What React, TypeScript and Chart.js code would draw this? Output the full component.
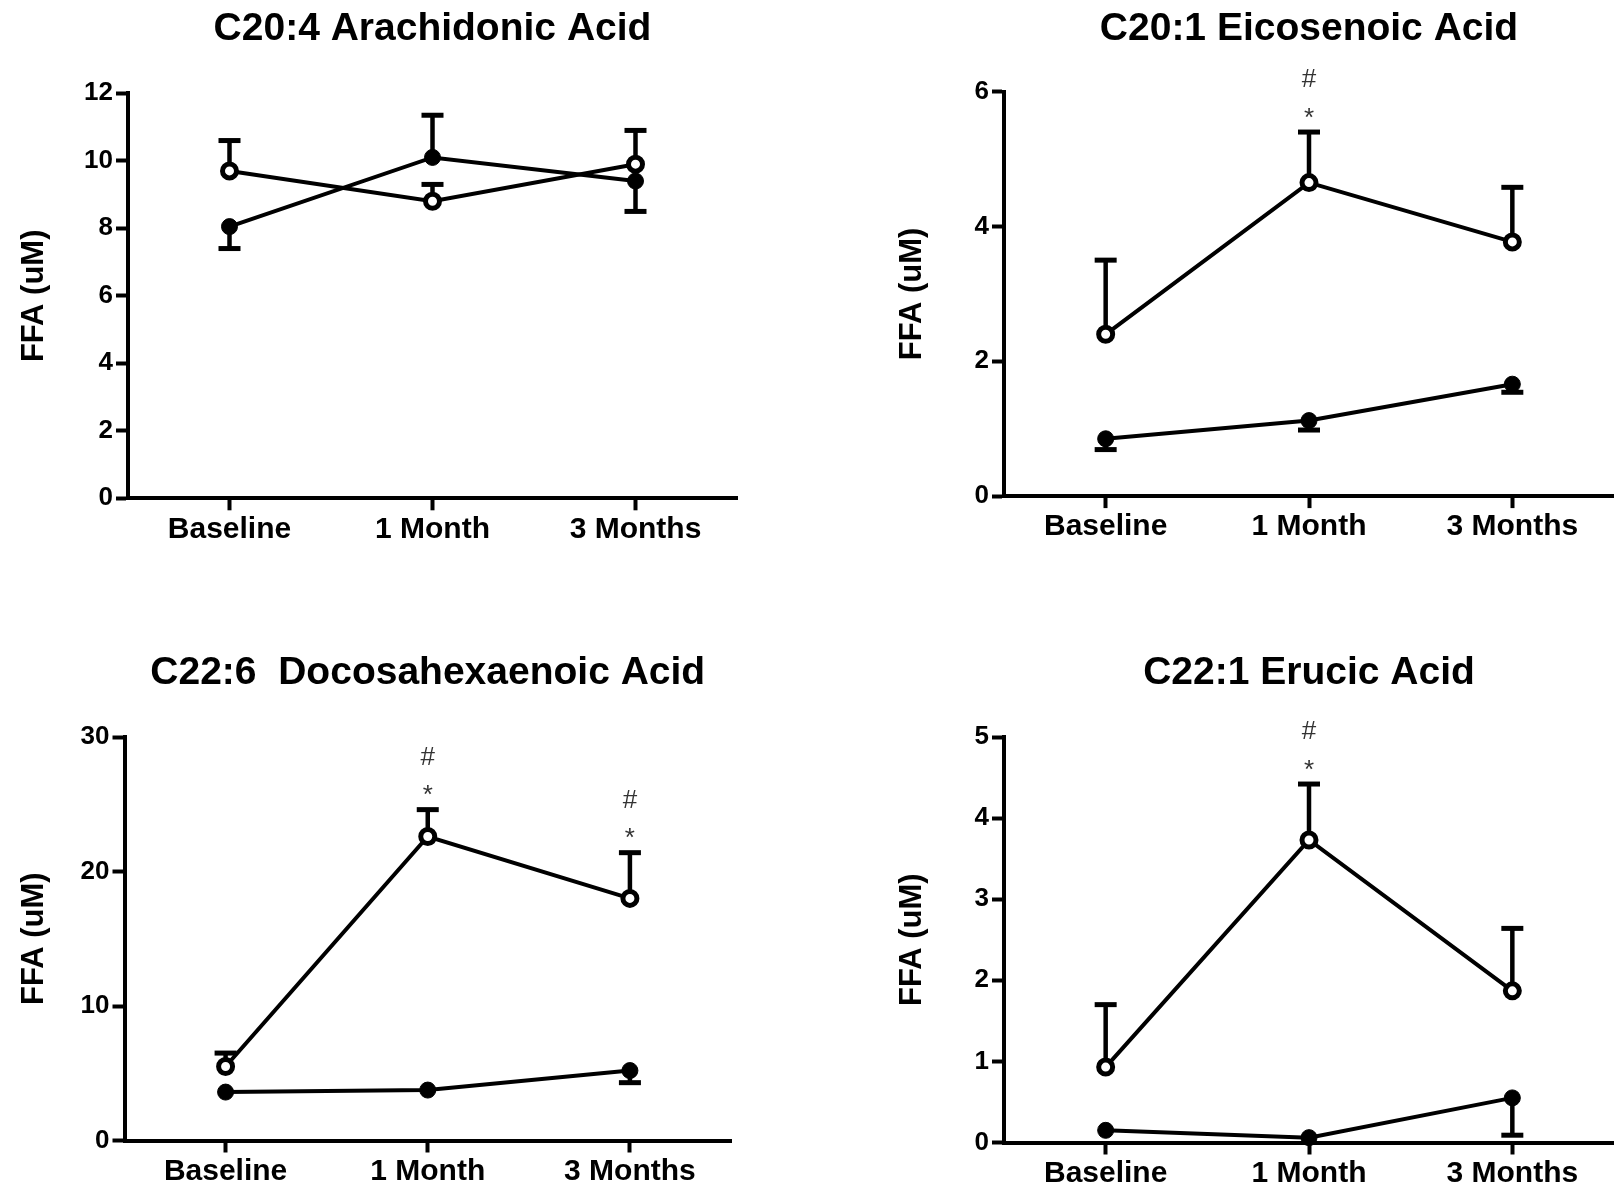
import React, { useEffect, useRef } from 'react';
import { Chart, registerables } from 'chart.js';

Chart.register(...registerables);

// ---------- data ----------
const CATEGORIES = ['Baseline', '1 Month', '3 Months'];
const Y_TITLE = 'FFA (uM)';

// C20:4 Arachidonic Acid
const AA_TITLE = 'C20:4 Arachidonic Acid';
const AA_OPEN = [9.7, 8.8, 9.9];
const AA_OPEN_ERR = [10.6, 9.3, 10.9];
const AA_FILLED = [8.05, 10.1, 9.4];
const AA_FILLED_ERR = [7.4, 11.35, 8.5];
const AA_SIG = ['', '', ''];
const AA_Y_MAX = 12;
const AA_Y_STEP = 2;

// C20:1 Eicosenoic Acid
const EA_TITLE = 'C20:1 Eicosenoic Acid';
const EA_OPEN = [2.4, 4.65, 3.77];
const EA_OPEN_ERR = [3.5, 5.4, 4.58];
const EA_FILLED = [0.85, 1.12, 1.66];
const EA_FILLED_ERR = [0.69, 0.98, 1.54];
const EA_SIG = ['', '*#', ''];
const EA_Y_MAX = 6;
const EA_Y_STEP = 2;

// C22:6 Docosahexaenoic Acid
const DHA_TITLE = 'C22:6  Docosahexaenoic Acid';
const DHA_OPEN = [5.5, 22.6, 18.0];
const DHA_OPEN_ERR = [6.5, 24.6, 21.4];
const DHA_FILLED = [3.6, 3.75, 5.2];
const DHA_FILLED_ERR = [3.6, 3.75, 4.3];
const DHA_SIG = ['', '*#', '*#'];
const DHA_Y_MAX = 30;
const DHA_Y_STEP = 10;

// C22:1 Erucic Acid
const ER_TITLE = 'C22:1 Erucic Acid';
const ER_OPEN = [0.93, 3.73, 1.87];
const ER_OPEN_ERR = [1.7, 4.42, 2.64];
const ER_FILLED = [0.15, 0.06, 0.55];
const ER_FILLED_ERR = [0.15, 0.06, 0.09];
const ER_SIG = ['', '*#', ''];
const ER_Y_MAX = 5;
const ER_Y_STEP = 1;

const PANELS = [
  { title: AA_TITLE, open: AA_OPEN, openErr: AA_OPEN_ERR, filled: AA_FILLED, filledErr: AA_FILLED_ERR, sig: AA_SIG, yMax: AA_Y_MAX, yStep: AA_Y_STEP },
  { title: EA_TITLE, open: EA_OPEN, openErr: EA_OPEN_ERR, filled: EA_FILLED, filledErr: EA_FILLED_ERR, sig: EA_SIG, yMax: EA_Y_MAX, yStep: EA_Y_STEP },
  { title: DHA_TITLE, open: DHA_OPEN, openErr: DHA_OPEN_ERR, filled: DHA_FILLED, filledErr: DHA_FILLED_ERR, sig: DHA_SIG, yMax: DHA_Y_MAX, yStep: DHA_Y_STEP },
  { title: ER_TITLE, open: ER_OPEN, openErr: ER_OPEN_ERR, filled: ER_FILLED, filledErr: ER_FILLED_ERR, sig: ER_SIG, yMax: ER_Y_MAX, yStep: ER_Y_STEP },
];

// ---------- layout (positions / sizes) ----------
const CANVAS_W = 807;
const CANVAS_H = 594;
const FRAMES = [
  { left: 0, top: 0, yw: 128, pr: 70, pb: 35.7, xh: 60, tTop: 5.6, tBottom: 40.9, yPad: 15.4 },
  { left: 807, top: 0, yw: 197, pr: 0, pb: 37.9, xh: 60, tTop: 5.6, tBottom: 39.2, yPad: 86.4 },
  { left: 0, top: 594, yw: 124.5, pr: 76, pb: 2.5, xh: 45, tTop: 55.6, tBottom: 40.6, yPad: 15.4 },
  { left: 807, top: 594, yw: 197, pr: 0, pb: 0.5, xh: 45, tTop: 55.6, tBottom: 40.6, yPad: 86.4 },
];

const FONT = "'Liberation Sans', Arial, Helvetica, sans-serif";
const INK = '#000000';

const errorBarPlugin = {
  id: 'errorBars',
  beforeDatasetsDraw(chart: any) {
    const ctx = chart.ctx;
    const yScale = chart.scales.y;
    chart.data.datasets.forEach((ds: any, di: number) => {
      const meta = chart.getDatasetMeta(di);
      const ends = ds.errEnd as number[];
      if (!ends) return;
      meta.data.forEach((pt: any, i: number) => {
        const v = ds.data[i];
        const e = ends[i];
        if (e === v) return;
        const x = pt.x;
        const y0 = yScale.getPixelForValue(v);
        const y1 = yScale.getPixelForValue(e);
        ctx.save();
        ctx.strokeStyle = INK;
        ctx.lineCap = 'butt';
        ctx.lineWidth = 4.5;
        ctx.beginPath();
        ctx.moveTo(x, y0);
        ctx.lineTo(x, y1);
        ctx.stroke();
        ctx.lineWidth = 5;
        ctx.beginPath();
        ctx.moveTo(x - 11, y1);
        ctx.lineTo(x + 11, y1);
        ctx.stroke();
        ctx.restore();
      });
    });
  },
};

const sigPlugin = {
  id: 'sigMarks',
  afterDatasetsDraw(chart: any) {
    const ctx = chart.ctx;
    const yScale = chart.scales.y;
    chart.data.datasets.forEach((ds: any, di: number) => {
      const sig = ds.sig as string[];
      if (!sig) return;
      const meta = chart.getDatasetMeta(di);
      meta.data.forEach((pt: any, i: number) => {
        const s = sig[i];
        if (!s) return;
        const capY = yScale.getPixelForValue(ds.errEnd[i]);
        ctx.save();
        ctx.fillStyle = '#333333';
        ctx.font = `26px ${FONT}`;
        ctx.textAlign = 'center';
        ctx.textBaseline = 'alphabetic';
        if (s.includes('*')) ctx.fillText('*', pt.x, capY - 21 + 26 * 0.56);
        if (s.includes('#')) ctx.fillText('#', pt.x, capY - 54 + 26 * 0.36);
        ctx.restore();
      });
    });
  },
};

function Panel({ idx }: { idx: number }) {
  const ref = useRef<HTMLCanvasElement | null>(null);
  const p = PANELS[idx];
  const f = FRAMES[idx];

  useEffect(() => {
    if (!ref.current) return;
    const chart = new Chart(ref.current, {
      type: 'line',
      data: {
        labels: CATEGORIES,
        datasets: [
          {
            data: p.open,
            errEnd: p.openErr,
            sig: p.sig,
            borderColor: INK,
            borderWidth: 4,
            pointBackgroundColor: '#ffffff',
            pointBorderColor: INK,
            pointBorderWidth: 5,
            pointRadius: 7,
            tension: 0,
            clip: false,
          } as any,
          {
            data: p.filled,
            errEnd: p.filledErr,
            borderColor: INK,
            borderWidth: 4,
            pointBackgroundColor: INK,
            pointBorderColor: INK,
            pointBorderWidth: 1,
            pointRadius: 8,
            tension: 0,
            clip: false,
          } as any,
        ],
      },
      options: {
        responsive: false,
        animation: false,
        events: [],
        layout: { autoPadding: false, padding: { left: 0, right: f.pr, top: 0, bottom: f.pb } },
        plugins: {
          legend: { display: false },
          tooltip: { enabled: false },
          title: {
            display: true,
            text: p.title,
            fullSize: false,
            color: INK,
            font: { family: FONT, size: 39, weight: 'bold' },
            padding: { top: f.tTop, bottom: f.tBottom },
          },
        },
        scales: {
          x: {
            type: 'category',
            offset: true,
            grid: {
              display: true,
              drawOnChartArea: false,
              drawTicks: true,
              tickLength: 12,
              tickWidth: 4,
              tickColor: INK,
              offset: false,
            },
            border: { display: true, color: INK, width: 4 },
            ticks: {
              color: INK,
              font: { family: FONT, size: 30, weight: 'bold' },
              padding: 1,
              maxRotation: 0,
              autoSkip: false,
            },
            afterFit: (s: any) => {
              s.height = f.xh;
              s.paddingLeft = 0;
              s.paddingRight = 0;
            },
          },
          y: {
            min: 0,
            max: p.yMax,
            grid: {
              display: true,
              drawOnChartArea: false,
              drawTicks: true,
              tickLength: 12,
              tickWidth: 4,
              tickColor: INK,
            },
            border: { display: true, color: INK, width: 4 },
            ticks: {
              stepSize: p.yStep,
              color: INK,
              font: { family: FONT, size: 26, weight: 'bold' },
              padding: 3,
            },
            title: {
              display: true,
              text: Y_TITLE,
              color: INK,
              font: { family: FONT, size: 31, weight: 'bold' },
              padding: { top: f.yPad, bottom: 0 },
            },
            afterFit: (s: any) => {
              s.width = f.yw;
            },
          },
        },
      } as any,
      plugins: [errorBarPlugin, sigPlugin],
    });
    return () => chart.destroy();
  }, [idx]);

  return (
    <canvas
      ref={ref}
      width={CANVAS_W}
      height={CANVAS_H}
      style={{ position: 'absolute', left: f.left, top: f.top, width: CANVAS_W, height: CANVAS_H }}
    />
  );
}

export default function App() {
  return (
    <div style={{ position: 'absolute', left: 0, top: 0, width: 1614, height: 1188, background: '#ffffff', overflow: 'hidden' }}>
      {PANELS.map((_, i) => (
        <Panel key={i} idx={i} />
      ))}
    </div>
  );
}
